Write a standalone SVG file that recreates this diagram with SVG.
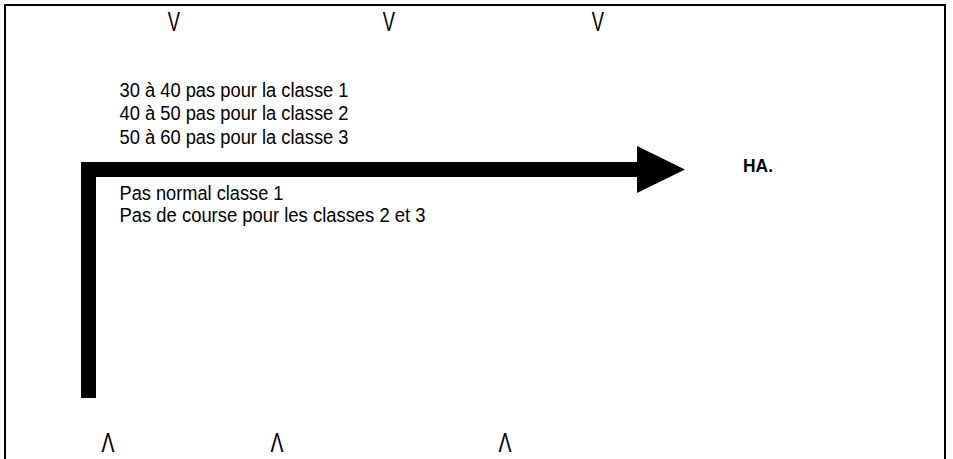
<svg xmlns="http://www.w3.org/2000/svg" width="953" height="459" viewBox="0 0 953 459">
  <style>
    .t { font-family: "Liberation Sans", Arial, sans-serif; fill: #000; }
    .lbl { font-size: 20px; }
    .mark { font-size: 27px; text-anchor: middle; }
    .bold { font-weight: bold; font-size: 19px; }
  </style>
  <rect width="953" height="459" fill="#fff"/>
  <g id="frame">
    <path d="M5,460 V5 H945 V460" fill="none" stroke="#000" stroke-width="2"/>
  </g>
  <g id="top-marks">
    <text class="t mark" transform="translate(174,30.5) scale(0.68,1)">V</text>
    <text class="t mark" transform="translate(389,30.5) scale(0.68,1)">V</text>
    <text class="t mark" transform="translate(598,30.5) scale(0.68,1)">V</text>
  </g>
  <g id="connectors">
    <path id="path-arrow" d="M81,398 V162 H637 V146 L685,169.5 L637,193 V177 H96 V398 Z" fill="#000"/>
  </g>
  <g id="label-distances">
    <text class="t lbl" x="119.5" y="96.5" textLength="229" lengthAdjust="spacingAndGlyphs">30 à 40 pas pour la classe 1</text>
    <text class="t lbl" x="119.5" y="120" textLength="229" lengthAdjust="spacingAndGlyphs">40 à 50 pas pour la classe 2</text>
    <text class="t lbl" x="119.5" y="143.5" textLength="229" lengthAdjust="spacingAndGlyphs">50 à 60 pas pour la classe 3</text>
  </g>
  <g id="label-pace">
    <text class="t lbl" x="119.5" y="200" textLength="164" lengthAdjust="spacingAndGlyphs">Pas normal classe 1</text>
    <text class="t lbl" x="119.5" y="222" textLength="306" lengthAdjust="spacingAndGlyphs">Pas de course pour les classes 2 et 3</text>
  </g>
  <g id="node-ha">
    <text class="t lbl bold" x="743" y="171.5" textLength="30" lengthAdjust="spacingAndGlyphs">HA.</text>
  </g>
  <g id="bottom-marks">
    <text class="t mark" transform="translate(108,452) scale(0.72,1)">Λ</text>
    <text class="t mark" transform="translate(277,452) scale(0.72,1)">Λ</text>
    <text class="t mark" transform="translate(505,452) scale(0.72,1)">Λ</text>
  </g>
</svg>
